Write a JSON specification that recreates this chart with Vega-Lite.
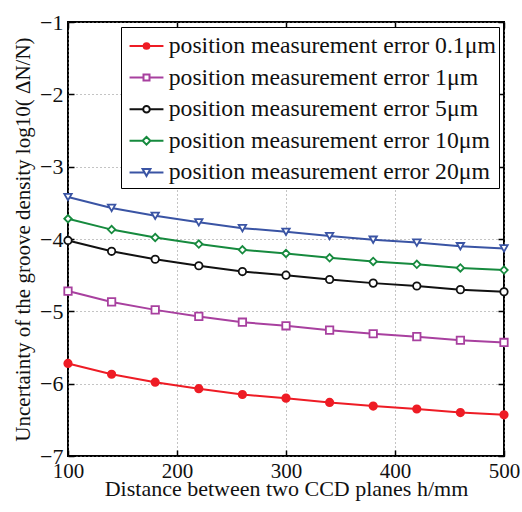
{
  "$schema": "https://vega.github.io/schema/vega-lite/v6.json",
  "width": 436,
  "height": 434,
  "autosize": "none",
  "padding": {"left": 68, "top": 22, "right": 18, "bottom": 56},
  "background": "white",
  "config": {
    "view": {"stroke": "#000", "strokeWidth": 2},
    "axis": {
      "labelFont": "Liberation Serif", "titleFont": "Liberation Serif",
      "labelFontSize": 22, "titleFontSize": 21, "titleFontWeight": "normal",
      "labelColor": "#111", "titleColor": "#111", "labelFlush": false,
      "domain": false, "tickColor": "#000", "tickWidth": 1.5, "tickSize": -6,
      "gridColor": "#888", "gridDash": [1, 3], "gridWidth": 1
    },
    "legend": {"labelFont": "Liberation Serif", "labelFontSize": 23.7, "labelColor": "#111", "labelLimit": 500}
  },
  "data": {
    "values": [
      {"h": 100, "series": "position measurement error 0.1μm", "v": -5.72},
      {"h": 140, "series": "position measurement error 0.1μm", "v": -5.87},
      {"h": 180, "series": "position measurement error 0.1μm", "v": -5.98},
      {"h": 220, "series": "position measurement error 0.1μm", "v": -6.07},
      {"h": 260, "series": "position measurement error 0.1μm", "v": -6.15},
      {"h": 300, "series": "position measurement error 0.1μm", "v": -6.2},
      {"h": 340, "series": "position measurement error 0.1μm", "v": -6.26},
      {"h": 380, "series": "position measurement error 0.1μm", "v": -6.31},
      {"h": 420, "series": "position measurement error 0.1μm", "v": -6.35},
      {"h": 460, "series": "position measurement error 0.1μm", "v": -6.4},
      {"h": 500, "series": "position measurement error 0.1μm", "v": -6.43},
      {"h": 100, "series": "position measurement error 1μm", "v": -4.72},
      {"h": 140, "series": "position measurement error 1μm", "v": -4.87},
      {"h": 180, "series": "position measurement error 1μm", "v": -4.98},
      {"h": 220, "series": "position measurement error 1μm", "v": -5.07},
      {"h": 260, "series": "position measurement error 1μm", "v": -5.15},
      {"h": 300, "series": "position measurement error 1μm", "v": -5.2},
      {"h": 340, "series": "position measurement error 1μm", "v": -5.26},
      {"h": 380, "series": "position measurement error 1μm", "v": -5.31},
      {"h": 420, "series": "position measurement error 1μm", "v": -5.35},
      {"h": 460, "series": "position measurement error 1μm", "v": -5.4},
      {"h": 500, "series": "position measurement error 1μm", "v": -5.43},
      {"h": 100, "series": "position measurement error 5μm", "v": -4.02},
      {"h": 140, "series": "position measurement error 5μm", "v": -4.17},
      {"h": 180, "series": "position measurement error 5μm", "v": -4.28},
      {"h": 220, "series": "position measurement error 5μm", "v": -4.37},
      {"h": 260, "series": "position measurement error 5μm", "v": -4.45},
      {"h": 300, "series": "position measurement error 5μm", "v": -4.5},
      {"h": 340, "series": "position measurement error 5μm", "v": -4.56},
      {"h": 380, "series": "position measurement error 5μm", "v": -4.61},
      {"h": 420, "series": "position measurement error 5μm", "v": -4.65},
      {"h": 460, "series": "position measurement error 5μm", "v": -4.7},
      {"h": 500, "series": "position measurement error 5μm", "v": -4.73},
      {"h": 100, "series": "position measurement error 10μm", "v": -3.72},
      {"h": 140, "series": "position measurement error 10μm", "v": -3.87},
      {"h": 180, "series": "position measurement error 10μm", "v": -3.98},
      {"h": 220, "series": "position measurement error 10μm", "v": -4.07},
      {"h": 260, "series": "position measurement error 10μm", "v": -4.15},
      {"h": 300, "series": "position measurement error 10μm", "v": -4.2},
      {"h": 340, "series": "position measurement error 10μm", "v": -4.26},
      {"h": 380, "series": "position measurement error 10μm", "v": -4.31},
      {"h": 420, "series": "position measurement error 10μm", "v": -4.35},
      {"h": 460, "series": "position measurement error 10μm", "v": -4.4},
      {"h": 500, "series": "position measurement error 10μm", "v": -4.43},
      {"h": 100, "series": "position measurement error 20μm", "v": -3.42},
      {"h": 140, "series": "position measurement error 20μm", "v": -3.57},
      {"h": 180, "series": "position measurement error 20μm", "v": -3.68},
      {"h": 220, "series": "position measurement error 20μm", "v": -3.77},
      {"h": 260, "series": "position measurement error 20μm", "v": -3.85},
      {"h": 300, "series": "position measurement error 20μm", "v": -3.9},
      {"h": 340, "series": "position measurement error 20μm", "v": -3.96},
      {"h": 380, "series": "position measurement error 20μm", "v": -4.01},
      {"h": 420, "series": "position measurement error 20μm", "v": -4.05},
      {"h": 460, "series": "position measurement error 20μm", "v": -4.1},
      {"h": 500, "series": "position measurement error 20μm", "v": -4.13}
    ]
  },
  "resolve": {"axis": {"x": "independent", "y": "independent"}},
  "layer": [
    {
      "mark": {"type": "line", "strokeWidth": 2},
      "encoding": {
        "x": {"field": "h", "type": "quantitative", "scale": {"domain": [100, 500], "nice": false},
          "axis": {"orient": "bottom", "values": [100, 200, 300, 400, 500], "grid": true, "labelPadding": 10, "labelFontSize": 21,
            "title": "Distance between two CCD planes  h/mm", "titleFontSize": 22, "titlePadding": -3}},
        "y": {"field": "v", "type": "quantitative", "scale": {"domain": [-7, -1], "nice": false, "zero": false},
          "axis": {"orient": "left", "values": [-7, -6, -5, -4, -3, -2, -1], "grid": true, "labelPadding": 11,
            "title": "Uncertainty of the groove density log10(  ΔN/N)", "titlePadding": 6}},
        "color": {"field": "series", "type": "nominal", "legend": null,
          "sort": ["position measurement error 0.1μm", "position measurement error 1μm", "position measurement error 5μm", "position measurement error 10μm", "position measurement error 20μm"],
          "scale": {"range": ["#ee1c25", "#a8409f", "#111111", "#168a3e", "#3a54a4"]}}
      }
    },
    {
      "mark": {"type": "point", "filled": false, "strokeWidth": 1.8, "size": 55, "opacity": 1},
      "encoding": {
        "x": {"field": "h", "type": "quantitative",
          "axis": {"orient": "top", "values": [100, 200, 300, 400, 500], "labels": false, "grid": false, "title": null}},
        "y": {"field": "v", "type": "quantitative",
          "axis": {"orient": "right", "values": [-7, -6, -5, -4, -3, -2, -1], "labels": false, "grid": false, "title": null}},
        "shape": {"field": "series", "type": "nominal", "legend": null,
          "sort": ["position measurement error 0.1μm", "position measurement error 1μm", "position measurement error 5μm", "position measurement error 10μm", "position measurement error 20μm"],
          "scale": {"range": ["circle", "square", "circle", "diamond", "triangle-down"]}},
        "stroke": {"field": "series", "type": "nominal",
          "scale": {"domain": ["position measurement error 0.1μm", "position measurement error 1μm", "position measurement error 5μm", "position measurement error 10μm", "position measurement error 20μm"],
            "range": ["#ee1c25", "#a8409f", "#111111", "#168a3e", "#3a54a4"]},
          "legend": {
            "title": null, "orient": "none", "legendX": 53, "legendY": 5,
            "padding": 3, "rowPadding": 3.6, "labelOffset": 6.2, "symbolOffset": 6.5,
            "symbolSize": 900, "symbolStrokeWidth": 2, "symbolOpacity": 1,
            "strokeColor": "#000", "fillColor": "#fff",
            "symbolType": {"expr": "datum.value == 'position measurement error 0.1μm' ? 'M-1.13,0H1.13M-0.19,0a0.19,0.19 0 1,0 0.38,0a0.19,0.19 0 1,0 -0.38,0' : datum.value == 'position measurement error 1μm' ? 'M-1.13,0H-0.2M0.2,0H1.13M-0.2,-0.2H0.2V0.2H-0.2Z' : datum.value == 'position measurement error 5μm' ? 'M-1.13,0H-0.22M0.22,0H1.13M-0.22,0a0.22,0.22 0 1,0 0.44,0a0.22,0.22 0 1,0 -0.44,0' : datum.value == 'position measurement error 10μm' ? 'M-1.13,0H-0.26M0.26,0H1.13M-0.26,0L0,-0.26L0.26,0L0,0.26Z' : 'M-1.13,0H-0.14M0.14,0H1.13M-0.26,-0.22L0.26,-0.22L0,0.24Z'"}
          }},
        "fill": {"field": "series", "type": "nominal",
          "scale": {"domain": ["position measurement error 0.1μm", "position measurement error 1μm", "position measurement error 5μm", "position measurement error 10μm", "position measurement error 20μm"],
            "range": ["#ee1c25", "#ffffff", "#ffffff", "#ffffff", "#ffffff"]},
          "legend": {
            "title": null, "orient": "none", "legendX": 53, "legendY": 5,
            "padding": 3, "rowPadding": 3.6, "labelOffset": 6.2, "symbolOffset": 6.5,
            "symbolSize": 900, "symbolStrokeWidth": 2, "symbolOpacity": 1,
            "strokeColor": "#000", "fillColor": "#fff",
            "symbolType": {"expr": "datum.value == 'position measurement error 0.1μm' ? 'M-1.13,0H1.13M-0.19,0a0.19,0.19 0 1,0 0.38,0a0.19,0.19 0 1,0 -0.38,0' : datum.value == 'position measurement error 1μm' ? 'M-1.13,0H-0.2M0.2,0H1.13M-0.2,-0.2H0.2V0.2H-0.2Z' : datum.value == 'position measurement error 5μm' ? 'M-1.13,0H-0.22M0.22,0H1.13M-0.22,0a0.22,0.22 0 1,0 0.44,0a0.22,0.22 0 1,0 -0.44,0' : datum.value == 'position measurement error 10μm' ? 'M-1.13,0H-0.26M0.26,0H1.13M-0.26,0L0,-0.26L0.26,0L0,0.26Z' : 'M-1.13,0H-0.14M0.14,0H1.13M-0.26,-0.22L0.26,-0.22L0,0.24Z'"}
          }}
      }
    }
  ]
}
